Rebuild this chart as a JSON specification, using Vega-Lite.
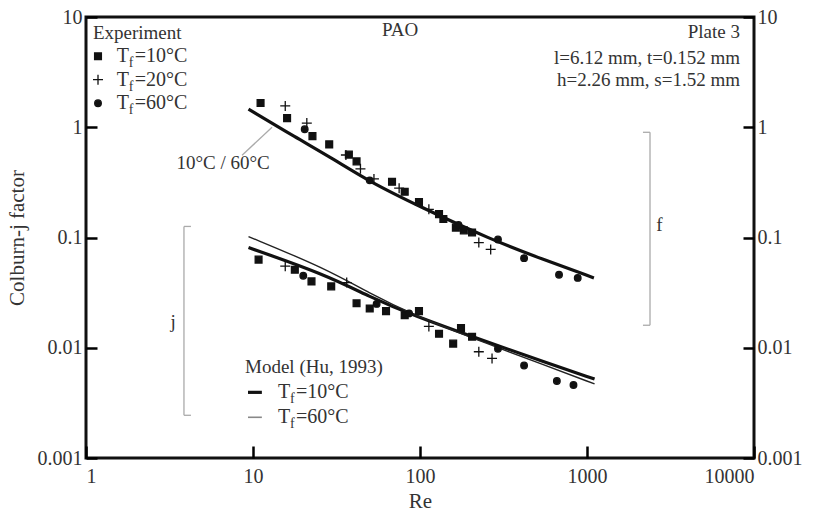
{
  "$schema": "https://vega.github.io/schema/vega-lite/v6.json",
  "width": 668,
  "height": 441,
  "autosize": {"type": "none"},
  "padding": {"left": 86, "top": 17, "right": 60, "bottom": 61},
  "background": "white",
  "config": {
    "view": {"stroke": "#111", "strokeWidth": 3},
    "font": "Liberation Serif",
    "axis": {
      "domain": false,
      "grid": false,
      "labelFont": "Liberation Serif",
      "labelFontSize": 20,
      "labelColor": "#333",
      "tickColor": "#000",
      "tickWidth": 2.5,
      "tickSize": 11,
      "offset": -11,
      "labelPadding": 4,
      "titleFont": "Liberation Serif",
      "titleFontSize": 21,
      "titleFontWeight": "normal",
      "titleColor": "#333"
    },
    "text": {"font": "Liberation Serif", "fontSize": 19, "color": "#333"}
  },
  "datasets": {
    "exp": [
      {"x": 11.1, "y": 1.66, "T": "10"},
      {"x": 15.6, "y": 1.56, "T": "20"},
      {"x": 16.0, "y": 1.21, "T": "10"},
      {"x": 21, "y": 1.09, "T": "20"},
      {"x": 20.4, "y": 0.96, "T": "60"},
      {"x": 22.7, "y": 0.83, "T": "10"},
      {"x": 28.6, "y": 0.70, "T": "10"},
      {"x": 36, "y": 0.56, "T": "20"},
      {"x": 37.5, "y": 0.565, "T": "10"},
      {"x": 41.7, "y": 0.49, "T": "10"},
      {"x": 44, "y": 0.42, "T": "20"},
      {"x": 50, "y": 0.33, "T": "60"},
      {"x": 53, "y": 0.34, "T": "20"},
      {"x": 68, "y": 0.32, "T": "10"},
      {"x": 75, "y": 0.28, "T": "20"},
      {"x": 81, "y": 0.26, "T": "10"},
      {"x": 98.6, "y": 0.21, "T": "10"},
      {"x": 113, "y": 0.18, "T": "20"},
      {"x": 130, "y": 0.163, "T": "10"},
      {"x": 138, "y": 0.147, "T": "10"},
      {"x": 164, "y": 0.123, "T": "10"},
      {"x": 170, "y": 0.13, "T": "60"},
      {"x": 183, "y": 0.116, "T": "10"},
      {"x": 205, "y": 0.111, "T": "10"},
      {"x": 225, "y": 0.09, "T": "20"},
      {"x": 265, "y": 0.078, "T": "20"},
      {"x": 293, "y": 0.096, "T": "60"},
      {"x": 420, "y": 0.065, "T": "60"},
      {"x": 680, "y": 0.046, "T": "60"},
      {"x": 880, "y": 0.043, "T": "60"},
      {"x": 10.8, "y": 0.063, "T": "10"},
      {"x": 15.6, "y": 0.055, "T": "20"},
      {"x": 17.8, "y": 0.051, "T": "10"},
      {"x": 20, "y": 0.045, "T": "60"},
      {"x": 22.4, "y": 0.040, "T": "10"},
      {"x": 29.4, "y": 0.036, "T": "10"},
      {"x": 36.4, "y": 0.039, "T": "20"},
      {"x": 41.7, "y": 0.0253, "T": "10"},
      {"x": 50, "y": 0.0227, "T": "10"},
      {"x": 55, "y": 0.025, "T": "60"},
      {"x": 62.6, "y": 0.0215, "T": "10"},
      {"x": 81, "y": 0.0197, "T": "10"},
      {"x": 86, "y": 0.0205, "T": "60"},
      {"x": 98.6, "y": 0.0215, "T": "10"},
      {"x": 113, "y": 0.0156, "T": "20"},
      {"x": 130, "y": 0.0134, "T": "10"},
      {"x": 158, "y": 0.0109, "T": "10"},
      {"x": 176, "y": 0.0151, "T": "10"},
      {"x": 205, "y": 0.0126, "T": "10"},
      {"x": 225, "y": 0.0092, "T": "20"},
      {"x": 270, "y": 0.0080, "T": "20"},
      {"x": 293, "y": 0.0098, "T": "60"},
      {"x": 420, "y": 0.0069, "T": "60"},
      {"x": 660, "y": 0.0050, "T": "60"},
      {"x": 830, "y": 0.0046, "T": "60"}
    ],
    "model": [
      {"x": 9.4, "y": 1.46, "curve": "f"},
      {"x": 18, "y": 0.81, "curve": "f"},
      {"x": 30, "y": 0.52, "curve": "f"},
      {"x": 50, "y": 0.32, "curve": "f"},
      {"x": 100, "y": 0.19, "curve": "f"},
      {"x": 265, "y": 0.096, "curve": "f"},
      {"x": 550, "y": 0.063, "curve": "f"},
      {"x": 1100, "y": 0.043, "curve": "f"},
      {"x": 9.4, "y": 0.081, "curve": "j10"},
      {"x": 26.7, "y": 0.0465, "curve": "j10"},
      {"x": 50, "y": 0.0290, "curve": "j10"},
      {"x": 90, "y": 0.0197, "curve": "j10"},
      {"x": 264, "y": 0.0110, "curve": "j10"},
      {"x": 550, "y": 0.0075, "curve": "j10"},
      {"x": 1110, "y": 0.0052, "curve": "j10"}
    ],
    "model60": [
      {"x": 9.4, "y": 0.102, "curve": "j60"},
      {"x": 26.7, "y": 0.0530, "curve": "j60"},
      {"x": 50, "y": 0.0312, "curve": "j60"},
      {"x": 90, "y": 0.0200, "curve": "j60"},
      {"x": 264, "y": 0.0106, "curve": "j60"},
      {"x": 550, "y": 0.0070, "curve": "j60"},
      {"x": 1110, "y": 0.0047, "curve": "j60"}
    ],
    "legpts": [
      {"x": 1.18, "y": 4.40, "T": "10"},
      {"x": 1.18, "y": 2.70, "T": "20"},
      {"x": 1.18, "y": 1.65, "T": "60"}
    ],
    "legrows": [
      {"x": 1.53, "y": 4.40, "main": "T", "sub": "f", "rest": "=10°C"},
      {"x": 1.53, "y": 2.70, "main": "T", "sub": "f", "rest": "=20°C"},
      {"x": 1.53, "y": 1.65, "main": "T", "sub": "f", "rest": "=60°C"},
      {"x": 14.1, "y": 0.00394, "main": "T", "sub": "f", "rest": "=10°C"},
      {"x": 14.1, "y": 0.00234, "main": "T", "sub": "f", "rest": "=60°C"}
    ],
    "leglines": [
      {"x": 9.33, "x2": 11.3, "y": 0.00394, "curve": "j10"},
      {"x": 9.33, "x2": 11.3, "y": 0.00234, "curve": "j60"}
    ],
    "textLeft": [
      {"x": 1.10, "y": 7.13, "t": "Experiment"},
      {"x": 8.96, "y": 0.00665, "t": "Model (Hu, 1993)"},
      {"x": 2595, "y": 0.129, "t": "f"}
    ],
    "textCenter": [
      {"x": 75.9, "y": 7.59, "t": "PAO"},
      {"x": 3.32, "y": 0.017, "t": "j"}
    ],
    "textRight": [
      {"x": 8245, "y": 7.27, "t": "Plate 3"},
      {"x": 8245, "y": 4.22, "t": "l=6.12 mm, t=0.152 mm"},
      {"x": 8245, "y": 2.67, "t": "h=2.26 mm, s=1.52 mm"},
      {"x": 12.6, "y": 0.471, "t": "10°C / 60°C"}
    ],
    "brackets": [
      {"x": 2384, "x2": 2384, "y": 0.90, "y2": 0.016},
      {"x": 2163, "x2": 2384, "y": 0.90, "y2": 0.90},
      {"x": 2163, "x2": 2384, "y": 0.016, "y2": 0.016},
      {"x": 3.86, "x2": 3.86, "y": 0.126, "y2": 0.00244},
      {"x": 3.86, "x2": 4.25, "y": 0.126, "y2": 0.126},
      {"x": 3.86, "x2": 4.25, "y": 0.00244, "y2": 0.00244},
      {"x": 8.6, "x2": 13.0, "y": 0.557, "y2": 1.0}
    ]
  },
  "resolve": {"axis": {"x": "shared", "y": "independent"}},
  "encoding": {
    "x": {"field": "x", "type": "quantitative", "scale": {"type": "log", "domain": [1, 10000], "nice": false},
          "axis": {"orient": "bottom", "title": "Re", "values": [1, 10, 100, 1000, 10000], "format": "~g", "ticks": true, "tickColor": "#000", "tickSize": 12, "offset": -12, "tickWidth": 2.5, "labelPadding": 8, "titlePadding": 4, "labelOverlap": false, "zindex": 3}}
  },
  "layer": [
    {
      "data": {"name": "brackets"},
      "mark": {"type": "rule", "color": "#aaa", "strokeWidth": 1.3},
      "encoding": {
        "x2": {"field": "x2"},
        "y": {"field": "y", "type": "quantitative", "scale": {"type": "log", "domain": [0.001, 10], "nice": false},
              "axis": {"orient": "left", "title": "Colburn-j factor", "values": [0.001, 0.01, 0.1, 1, 10], "format": "~g", "labelPadding": 4, "titlePadding": 10, "labelOverlap": false, "zindex": 3}},
        "y2": {"field": "y2"}
      }
    },
    {
      "data": {"name": "model"},
      "mark": {"type": "line", "color": "#111", "strokeWidth": 3.2, "interpolate": "basis"},
      "encoding": {
        "y": {"field": "y", "type": "quantitative", "scale": {"type": "log", "domain": [0.001, 10], "nice": false},
              "axis": {"orient": "right", "title": null, "values": [0.001, 0.01, 0.1, 1, 10], "format": "~g", "labelPadding": 3, "labelOverlap": false, "zindex": 3}},
        "detail": {"field": "curve"}
      }
    },
    {
      "data": {"name": "model60"},
      "mark": {"type": "line", "color": "#222", "strokeWidth": 1.4, "interpolate": "basis"},
      "encoding": {
        "y": {"field": "y", "type": "quantitative", "scale": {"type": "log", "domain": [0.001, 10], "nice": false}, "axis": null}
      }
    },
    {
      "data": {"name": "exp"},
      "mark": {"type": "point", "filled": true, "color": "#111", "stroke": "#111", "strokeWidth": 1.3, "opacity": 1, "size": 100},
      "encoding": {
        "y": {"field": "y", "type": "quantitative", "scale": {"type": "log", "domain": [0.001, 10], "nice": false}, "axis": null},
        "shape": {"field": "T", "type": "nominal", "scale": {"domain": ["10", "20", "60"], "range": ["M-0.68,-0.68L0.68,-0.68L0.68,0.68L-0.68,0.68Z", "M-1,0L1,0M0,-1L0,1", "M-0.66,0A0.66,0.66 0 1,0 0.66,0A0.66,0.66 0 1,0 -0.66,0Z"]}, "legend": null}
      }
    },
    {
      "data": {"name": "legpts"},
      "mark": {"type": "point", "filled": true, "color": "#111", "stroke": "#111", "strokeWidth": 1.3, "opacity": 1, "size": 100},
      "encoding": {
        "y": {"field": "y", "type": "quantitative", "scale": {"type": "log", "domain": [0.001, 10], "nice": false}, "axis": null},
        "shape": {"field": "T", "type": "nominal", "scale": {"domain": ["10", "20", "60"], "range": ["M-0.68,-0.68L0.68,-0.68L0.68,0.68L-0.68,0.68Z", "M-1,0L1,0M0,-1L0,1", "M-0.66,0A0.66,0.66 0 1,0 0.66,0A0.66,0.66 0 1,0 -0.66,0Z"]}, "legend": null}
      }
    },
    {
      "data": {"name": "leglines"},
      "transform": [{"filter": "datum.curve == 'j10'"}],
      "mark": {"type": "rule", "color": "#111", "strokeWidth": 3.2},
      "encoding": {
        "x2": {"field": "x2"},
        "y": {"field": "y", "type": "quantitative", "scale": {"type": "log", "domain": [0.001, 10], "nice": false}, "axis": null}
      }
    },
    {
      "data": {"name": "leglines"},
      "transform": [{"filter": "datum.curve == 'j60'"}],
      "mark": {"type": "rule", "color": "#888", "strokeWidth": 1.6},
      "encoding": {
        "x2": {"field": "x2"},
        "y": {"field": "y", "type": "quantitative", "scale": {"type": "log", "domain": [0.001, 10], "nice": false}, "axis": null}
      }
    },
    {
      "data": {"name": "legrows"},
      "mark": {"type": "text", "align": "left", "baseline": "middle", "fontSize": 20},
      "encoding": {
        "y": {"field": "y", "type": "quantitative", "scale": {"type": "log", "domain": [0.001, 10], "nice": false}, "axis": null},
        "text": {"field": "main"}
      }
    },
    {
      "data": {"name": "legrows"},
      "mark": {"type": "text", "align": "left", "baseline": "middle", "fontSize": 14, "dx": 12, "dy": 7},
      "encoding": {
        "y": {"field": "y", "type": "quantitative", "scale": {"type": "log", "domain": [0.001, 10], "nice": false}, "axis": null},
        "text": {"field": "sub"}
      }
    },
    {
      "data": {"name": "legrows"},
      "mark": {"type": "text", "align": "left", "baseline": "middle", "fontSize": 20, "dx": 18},
      "encoding": {
        "y": {"field": "y", "type": "quantitative", "scale": {"type": "log", "domain": [0.001, 10], "nice": false}, "axis": null},
        "text": {"field": "rest"}
      }
    },
    {
      "data": {"name": "textLeft"},
      "mark": {"type": "text", "align": "left", "baseline": "middle", "fontSize": 19},
      "encoding": {
        "y": {"field": "y", "type": "quantitative", "scale": {"type": "log", "domain": [0.001, 10], "nice": false}, "axis": null},
        "text": {"field": "t"}
      }
    },
    {
      "data": {"name": "textCenter"},
      "mark": {"type": "text", "align": "center", "baseline": "middle", "fontSize": 19},
      "encoding": {
        "y": {"field": "y", "type": "quantitative", "scale": {"type": "log", "domain": [0.001, 10], "nice": false}, "axis": null},
        "text": {"field": "t"}
      }
    },
    {
      "data": {"name": "textRight"},
      "mark": {"type": "text", "align": "right", "baseline": "middle", "fontSize": 19},
      "encoding": {
        "y": {"field": "y", "type": "quantitative", "scale": {"type": "log", "domain": [0.001, 10], "nice": false}, "axis": null},
        "text": {"field": "t"}
      }
    }
  ]
}
